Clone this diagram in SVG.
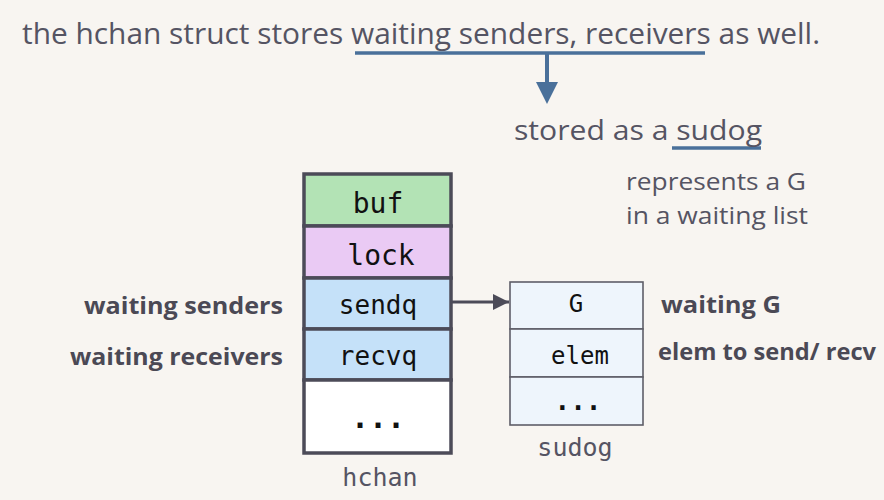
<svg xmlns="http://www.w3.org/2000/svg" width="884" height="500" viewBox="0 0 884 500">
<defs>
<style>
.t{font-family:"Open Sans","Noto Sans",sans-serif;fill:#555463;}
.b{font-family:"Open Sans","Noto Sans",sans-serif;font-weight:bold;fill:#4b4955;font-size:23px;}
.m{font-family:"DejaVu Sans Mono","Liberation Mono",monospace;fill:#111;text-anchor:middle;}
.cap{font-family:"DejaVu Sans Mono","Liberation Mono",monospace;fill:#555463;text-anchor:middle;font-size:25px;}
.hc{stroke:#4c4b58;stroke-width:3.5;}
.sd{stroke:#5e5e68;stroke-width:1.6;fill:#eef5fc;}
.ul{stroke:#4a709a;stroke-width:3.5;fill:none;}
</style>
<marker id="ah" viewBox="0 0 10 10" refX="10" refY="5" markerWidth="16" markerHeight="16" markerUnits="userSpaceOnUse" orient="auto">
<path d="M0,0 L10,5 L0,10 Z" fill="#4c4b58"/>
</marker>
</defs>
<rect width="884" height="500" fill="#f8f5f1"/>

<g id="title">
<text class="t" x="22" y="44" font-size="29" textLength="798" lengthAdjust="spacingAndGlyphs">the hchan struct stores waiting senders, receivers as well.</text>
</g>

<g id="connectors">
<line class="ul" x1="355" y1="53" x2="705" y2="53"/>
<line x1="547" y1="53" x2="547" y2="84" stroke="#4a709a" stroke-width="4"/>
<path d="M536,82 L558,82 L547,104 Z" fill="#4a709a"/>
<line class="ul" x1="672" y1="148" x2="761" y2="148"/>
<line x1="452" y1="302" x2="509" y2="302" stroke="#4c4b58" stroke-width="3" marker-end="url(#ah)"/>
</g>

<g id="stored">
<text class="t" x="514" y="140" font-size="27" textLength="248" lengthAdjust="spacingAndGlyphs">stored as a sudog</text>
</g>

<g id="represents">
<text class="t" x="626" y="190" font-size="23" textLength="180" lengthAdjust="spacingAndGlyphs">represents a G</text>
<text class="t" x="626" y="224" font-size="23" textLength="182" lengthAdjust="spacingAndGlyphs">in a waiting list</text>
</g>

<g id="hchan">
<rect class="hc" x="304" y="174" width="147" height="52" fill="#b3e3b5"/>
<rect class="hc" x="304" y="226" width="147" height="52" fill="#eacaf4"/>
<rect class="hc" x="304" y="278" width="147" height="51" fill="#c5e1f9"/>
<rect class="hc" x="304" y="329" width="147" height="51" fill="#c5e1f9"/>
<rect class="hc" x="304" y="380" width="147" height="73" fill="#ffffff"/>
<text class="m" x="378" y="213" font-size="28">buf</text>
<text class="m" x="381" y="265" font-size="28">lock</text>
<text class="m" x="378" y="314" font-size="26">sendq</text>
<text class="m" x="378" y="365" font-size="26">recvq</text>
<text class="m" x="378" y="428" font-size="30" font-weight="bold">...</text>
<text class="cap" x="380" y="486">hchan</text>
</g>

<g id="sudog">
<rect class="sd" x="510" y="282" width="133" height="47"/>
<rect class="sd" x="510" y="329" width="133" height="48"/>
<rect class="sd" x="510" y="377" width="133" height="48"/>
<text class="m" x="576" y="312" font-size="24">G</text>
<text class="m" x="580" y="364" font-size="24">elem</text>
<text class="m" x="578" y="410" font-size="26" font-weight="bold">...</text>
<text class="cap" x="575" y="456">sudog</text>
</g>

<g id="labels">
<text class="b" x="84" y="314" textLength="199" lengthAdjust="spacingAndGlyphs">waiting senders</text>
<text class="b" x="70" y="365" textLength="213" lengthAdjust="spacingAndGlyphs">waiting receivers</text>
<text class="b" x="661" y="313" textLength="120" lengthAdjust="spacingAndGlyphs">waiting G</text>
<text class="b" x="658" y="360" font-size="22" textLength="218" lengthAdjust="spacingAndGlyphs">elem to send/ recv</text>
</g>
</svg>
